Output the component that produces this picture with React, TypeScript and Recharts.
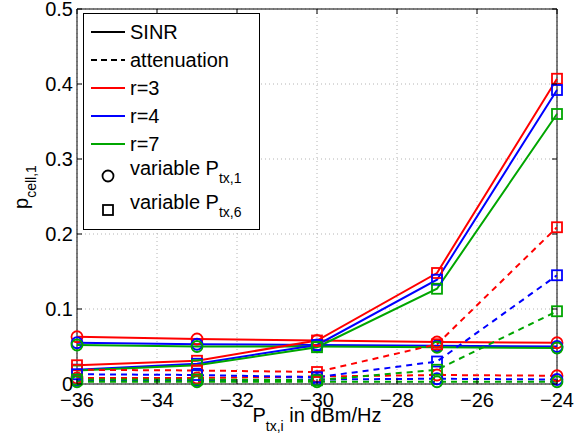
import { LineChart, Line, XAxis, YAxis, CartesianGrid, ReferenceArea } from 'recharts'

const txPower = [-36, -33, -30, -27, -24]
const xTicks = [-36, -34, -32, -30, -28, -26, -24]
const yTicks = [0, 0.1, 0.2, 0.3, 0.4, 0.5]

// SINR, variable P_tx,1 (circles)
const sinrTx1R3 = [0.063, 0.060, 0.058, 0.056, 0.055]
const sinrTx1R4 = [0.055, 0.053, 0.052, 0.051, 0.050]
const sinrTx1R7 = [0.052, 0.050, 0.050, 0.049, 0.048]
// SINR, variable P_tx,6 (squares)
const sinrTx6R3 = [0.025, 0.031, 0.058, 0.148, 0.407]
const sinrTx6R4 = [0.019, 0.027, 0.052, 0.139, 0.392]
const sinrTx6R7 = [0.018, 0.025, 0.049, 0.127, 0.360]
// attenuation, variable P_tx,1 (circles)
const attTx1R3 = [0.008, 0.008, 0.010, 0.012, 0.011]
const attTx1R4 = [0.005, 0.005, 0.006, 0.007, 0.006]
const attTx1R7 = [0.003, 0.003, 0.003, 0.003, 0.003]
// attenuation, variable P_tx,6 (squares)
const attTx6R3 = [0.019, 0.018, 0.016, 0.053, 0.209]
const attTx6R4 = [0.013, 0.012, 0.009, 0.030, 0.145]
const attTx6R7 = [0.006, 0.006, 0.005, 0.019, 0.097]

const RED = '#ff0000'
const BLUE = '#0000ff'
const GREEN = '#00a600'
const FONT = '"Liberation Sans", Arial, sans-serif'

const series = [
  { key: 'sinrTx1R3', values: sinrTx1R3, color: RED, dashed: false, square: false },
  { key: 'sinrTx1R4', values: sinrTx1R4, color: BLUE, dashed: false, square: false },
  { key: 'sinrTx1R7', values: sinrTx1R7, color: GREEN, dashed: false, square: false },
  { key: 'sinrTx6R3', values: sinrTx6R3, color: RED, dashed: false, square: true },
  { key: 'sinrTx6R4', values: sinrTx6R4, color: BLUE, dashed: false, square: true },
  { key: 'sinrTx6R7', values: sinrTx6R7, color: GREEN, dashed: false, square: true },
  { key: 'attTx1R3', values: attTx1R3, color: RED, dashed: true, square: false },
  { key: 'attTx1R4', values: attTx1R4, color: BLUE, dashed: true, square: false },
  { key: 'attTx1R7', values: attTx1R7, color: GREEN, dashed: true, square: false },
  { key: 'attTx6R3', values: attTx6R3, color: RED, dashed: true, square: true },
  { key: 'attTx6R4', values: attTx6R4, color: BLUE, dashed: true, square: true },
  { key: 'attTx6R7', values: attTx6R7, color: GREEN, dashed: true, square: true },
]

const data = txPower.map((x, i) => {
  const row: Record<string, number> = { x }
  for (const s of series) row[s.key] = s.values[i]
  return row
})

// plot box edges, used for the inward MATLAB-style ticks
const PLOT_TOP = 9
const PLOT_BOTTOM = 384
const PLOT_LEFT = 77
const PLOT_RIGHT = 557

const fmtX = (v: number) => (v < 0 ? `\u2212${Math.abs(v)}` : String(v))
const fmtY = (v: number) => (v === 0 ? '0' : v.toFixed(1))

function XTick({ x, payload }: any) {
  return (
    <g>
      <line x1={x} x2={x} y1={PLOT_BOTTOM} y2={PLOT_BOTTOM - 5} stroke="#000" />
      <line x1={x} x2={x} y1={PLOT_TOP} y2={PLOT_TOP + 5} stroke="#000" />
      <text x={x} y={PLOT_BOTTOM + 23} textAnchor="middle" fontSize={20} fontFamily={FONT} fill="#000">
        {fmtX(payload.value)}
      </text>
    </g>
  )
}

function YTick({ y, payload }: any) {
  return (
    <g>
      <line x1={PLOT_LEFT} x2={PLOT_LEFT + 5} y1={y} y2={y} stroke="#000" />
      <line x1={PLOT_RIGHT} x2={PLOT_RIGHT - 5} y1={y} y2={y} stroke="#000" />
      <text x={PLOT_LEFT - 4} y={y} dy="0.36em" textAnchor="end" fontSize={20} fontFamily={FONT} fill="#000">
        {fmtY(payload.value)}
      </text>
    </g>
  )
}

const markerFor = (color: string, square: boolean) => (props: any) => {
  const { cx, cy, index } = props
  if (cx == null || cy == null) return <g key={`m-${index}`} />
  return square ? (
    <rect key={`m-${index}`} x={cx - 5} y={cy - 5} width={10} height={10} fill="none" stroke={color} strokeWidth={1.8} />
  ) : (
    <circle key={`m-${index}`} cx={cx} cy={cy} r={5.5} fill="none" stroke={color} strokeWidth={1.8} />
  )
}

function LegendSample({ color, dashed, marker }: { color?: string; dashed?: boolean; marker?: 'circle' | 'square' }) {
  return (
    <svg width={36} height={20} style={{ position: 'absolute', left: 6, top: -10 }}>
      {color && (
        <line x1={1} x2={35} y1={10} y2={10} stroke={color} strokeWidth={2} strokeDasharray={dashed ? '6 4' : undefined} />
      )}
      {marker === 'circle' && <circle cx={18} cy={10} r={5.5} fill="none" stroke="#000" strokeWidth={1.8} />}
      {marker === 'square' && <rect x={13} y={5} width={10} height={10} fill="none" stroke="#000" strokeWidth={1.8} />}
    </svg>
  )
}

const legendRows = [
  { y: 18, label: 'SINR', color: '#000', dashed: false },
  { y: 46, label: 'attenuation', color: '#000', dashed: true },
  { y: 74, label: 'r=3', color: RED, dashed: false },
  { y: 102, label: 'r=4', color: BLUE, dashed: false },
  { y: 130, label: 'r=7', color: GREEN, dashed: false },
]

export default function App() {
  return (
    <div style={{ position: 'absolute', left: 0, top: 0, width: 576, height: 438, background: '#fff' }}>
      <LineChart width={576} height={438} data={data} margin={{ top: PLOT_TOP, right: 576 - PLOT_RIGHT, bottom: 24, left: 17 }}>
        <CartesianGrid stroke="#b4b4b4" strokeDasharray="1 3" />
        <XAxis
          dataKey="x"
          type="number"
          domain={[-36, -24]}
          ticks={xTicks}
          height={30}
          axisLine={false}
          tickLine={false}
          tick={<XTick />}
          interval={0}
        />
        <YAxis
          type="number"
          domain={[0, 0.5]}
          ticks={yTicks}
          width={60}
          axisLine={false}
          tickLine={false}
          tick={<YTick />}
          interval={0}
        />
        <ReferenceArea x1={-36} x2={-24} y1={0} y2={0.5} fill="none" stroke="#000" strokeWidth={1} />
        {series.map(s => (
          <Line
            key={s.key}
            dataKey={s.key}
            stroke={s.color}
            strokeWidth={2}
            strokeDasharray={s.dashed ? '6 5' : undefined}
            dot={markerFor(s.color, s.square)}
            activeDot={false}
            isAnimationActive={false}
          />
        ))}
      </LineChart>

      {/* legend */}
      <div
        style={{
          position: 'absolute', left: 83, top: 13, width: 175, height: 215,
          border: '1px solid #000', background: '#fff', fontFamily: FONT, fontSize: 20, color: '#000',
        }}
      >
        {legendRows.map(r => (
          <div key={r.label} style={{ position: 'absolute', left: 0, top: r.y, width: '100%' }}>
            <LegendSample color={r.color} dashed={r.dashed} />
            <span style={{ position: 'absolute', left: 46, top: -12, lineHeight: '24px', whiteSpace: 'nowrap' }}>{r.label}</span>
          </div>
        ))}
        <div style={{ position: 'absolute', left: 0, top: 162, width: '100%' }}>
          <LegendSample marker="circle" />
          <span style={{ position: 'absolute', left: 46, top: -20, lineHeight: '24px', whiteSpace: 'nowrap' }}>
            variable P<span style={{ fontSize: 14, position: 'relative', top: 8 }}>tx,1</span>
          </span>
        </div>
        <div style={{ position: 'absolute', left: 0, top: 196, width: '100%' }}>
          <LegendSample marker="square" />
          <span style={{ position: 'absolute', left: 46, top: -20, lineHeight: '24px', whiteSpace: 'nowrap' }}>
            variable P<span style={{ fontSize: 14, position: 'relative', top: 8 }}>tx,6</span>
          </span>
        </div>
      </div>

      {/* x axis label */}
      <div
        style={{
          position: 'absolute', left: 217, top: 403, width: 200, textAlign: 'center',
          fontFamily: FONT, fontSize: 20, lineHeight: '24px', whiteSpace: 'nowrap',
        }}
      >
        P<span style={{ fontSize: 14, position: 'relative', top: 9 }}>tx,i</span> in dBm/Hz
      </div>

      {/* y axis label */}
      <div
        style={{
          position: 'absolute', left: -78, top: 174, width: 200, textAlign: 'center',
          transform: 'rotate(-90deg)', fontFamily: FONT, fontSize: 20, lineHeight: '24px', whiteSpace: 'nowrap',
        }}
      >
        p<span style={{ fontSize: 14, position: 'relative', top: 8 }}>cell,1</span>
      </div>
    </div>
  )
}
